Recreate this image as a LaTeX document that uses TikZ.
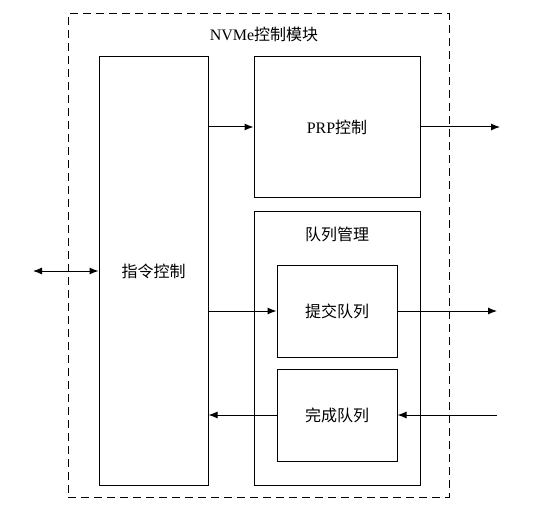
\documentclass[tikz,border=0pt]{standalone}
\usepackage{fontspec}
\setmainfont{Liberation Serif}
\newfontfamily\cjk{Noto Sans CJK SC}
\usetikzlibrary{arrows.meta}
\begin{document}
\begin{tikzpicture}[x=1pt, y=-1pt, font=\fontsize{16}{19}\selectfont, line width=1pt,
    >={Latex[length=9pt,width=7pt]}]
         \useasboundingbox (0,0) rectangle (533,516);
         %boxes
         \node[draw, dash pattern=on 8pt off 5pt, minimum width=381pt, minimum height=483pt, inner sep=0pt] at (258.5,255.5) (nvme) {};
         \node at (264,34) (title) {NVMe{\cjk 控制模块}};
         \node[draw, minimum width=109pt, minimum height=428pt, inner sep=0pt] at (153.5,271) (cmd) {\cjk 指令控制};
         \node[draw, minimum width=166pt, minimum height=140pt, inner sep=0pt] at (337,127) (prp) {PRP{\cjk 控制}};
         \node[draw, minimum width=166pt, minimum height=274pt, inner sep=0pt] at (337,348) (qm) {};
         \node at (337,234) (qmlabel) {\cjk 队列管理};
         \node[draw, minimum width=120pt, minimum height=92pt, inner sep=0pt] at (337,311) (sq) {\cjk 提交队列};
         \node[draw, minimum width=120pt, minimum height=92pt, inner sep=0pt] at (337,415) (cq) {\cjk 完成队列};
         %free ends
         \coordinate (host) at (33,271);
         \coordinate (prpout) at (500,127);
         \coordinate (sqout) at (497,311);
         \coordinate (cqin) at (497,415);
         %connectors
         \path[->]
             (cmd.east |- prp.west) edge (prp.west)
             (prp.east) edge (prpout)
             (cmd.east |- sq.west) edge (sq.west)
             (sq.east) edge (sqout)
             (cq.west) edge (cmd.east |- cq.west)
             (cqin) edge (cq.east);
         \draw[<->] (host) -- (cmd.west);
    \end{tikzpicture}
\end{document}
